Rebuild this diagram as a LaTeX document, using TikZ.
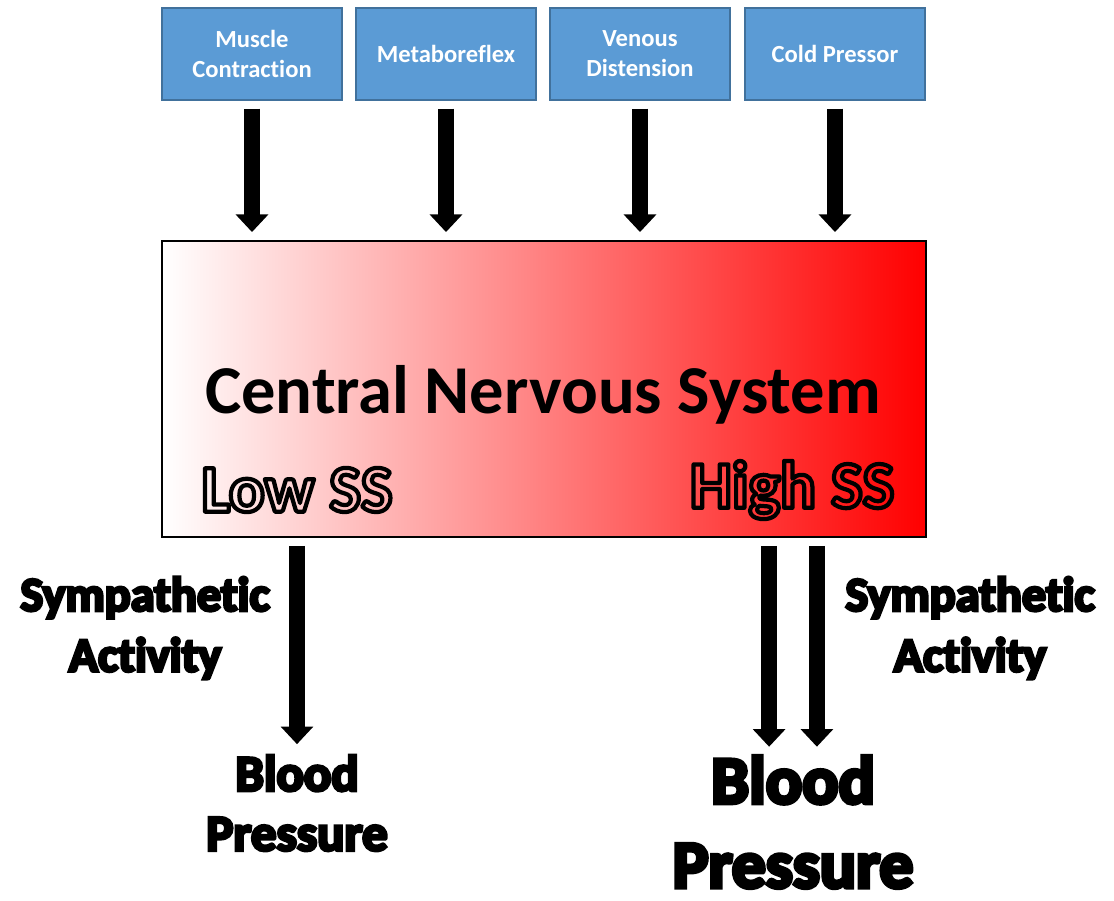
\documentclass[tikz,border=0pt]{standalone}
\usepackage{fontspec}
\setmainfont{Carlito}[Ligatures=NoCommon]
\newfontfamily\heavyfont{Carlito}[Ligatures=NoCommon, BoldFeatures={FakeBold=6}]
\usetikzlibrary{arrows.meta}

\definecolor{boxblue}{HTML}{5B9BD5}
\definecolor{boxedge}{HTML}{41719C}

\tikzset{
  input/.style={draw=boxedge, line width=0.8pt, fill=boxblue, text=white,
    font=\bfseries\fontsize{14}{17}\selectfont, align=center,
    minimum width=3.6cm, minimum height=1.84cm, inner sep=0pt},
  bigarrow/.style={line width=9pt, -{Triangle[width=18pt,length=10pt]}},
  heavy/.style={align=center, inner sep=0pt},
}
% text drawn as outline only
\newcommand{\outlinetext}[1]{\special{pdf:code q 1 Tr 2.4 w 1 j 0 0 0 RG}#1\special{pdf:code Q}}

\begin{document}
\begin{tikzpicture}[x=0.02cm, y=-0.02cm]
    \useasboundingbox (0,0) rectangle (1114,901);

    % inputs
    \node[input] (mc) at (252,54) {Muscle\\Contraction};
    \node[input] (mr) at (446,54) {Metaboreflex};
    \node[input] (vd) at (640,54) {Venous\\Distension};
    \node[input] (cp) at (835,54) {Cold Pressor};

    % central box
    \node[draw=black, line width=1.2pt, left color=white, right color=red,
      minimum width=15.28cm, minimum height=5.92cm, inner sep=0pt] (cns) at (544,389) {};
    \node[font=\bfseries\fontsize{39}{44}\selectfont, inner sep=0pt] (cnstext) at (543,395) {Central Nervous System};
    \node[font=\bfseries\fontsize{38}{44}\selectfont, inner sep=0pt] (low) at (297,490) {\outlinetext{Low SS}};
    \node[font=\bfseries\fontsize{38}{44}\selectfont, inner sep=0pt] (high) at (792,490) {\outlinetext{High SS}};

    \foreach \n in {mc, mr, vd, cp}
      \draw[bigarrow] ([yshift=-4.5pt]\n.south) -- ([yshift=4.5pt]\n.south |- cns.north);

    % outputs
    \node[heavy, font=\heavyfont\bfseries\fontsize{27.5}{34.5}\selectfont] (sympl) at (145,628) {Sympathetic\\Activity};
    \node[heavy, font=\heavyfont\bfseries\fontsize{29}{34}\selectfont] (bpl) at (297,803) {Blood\\Pressure};
    \node[heavy, font=\heavyfont\bfseries\fontsize{27.5}{34.5}\selectfont] (sympr) at (970,628) {Sympathetic\\Activity};
    \node[heavy, font=\heavyfont\bfseries\fontsize{38.5}{48}\selectfont] (bpr) at (793,822) {Blood\\Pressure};

    \draw[bigarrow] ([yshift=-4.5pt]cns.south -| bpl.north) -- ([yshift=6pt]bpl.north);
    \draw[bigarrow] ([xshift=-13.6pt,yshift=-4.5pt]cns.south -| bpr.north) -- ([xshift=-13.6pt,yshift=5pt]bpr.north);
    \draw[bigarrow] ([xshift=13.6pt,yshift=-4.5pt]cns.south -| bpr.north) -- ([xshift=13.6pt,yshift=5pt]bpr.north);
\end{tikzpicture}
\end{document}
